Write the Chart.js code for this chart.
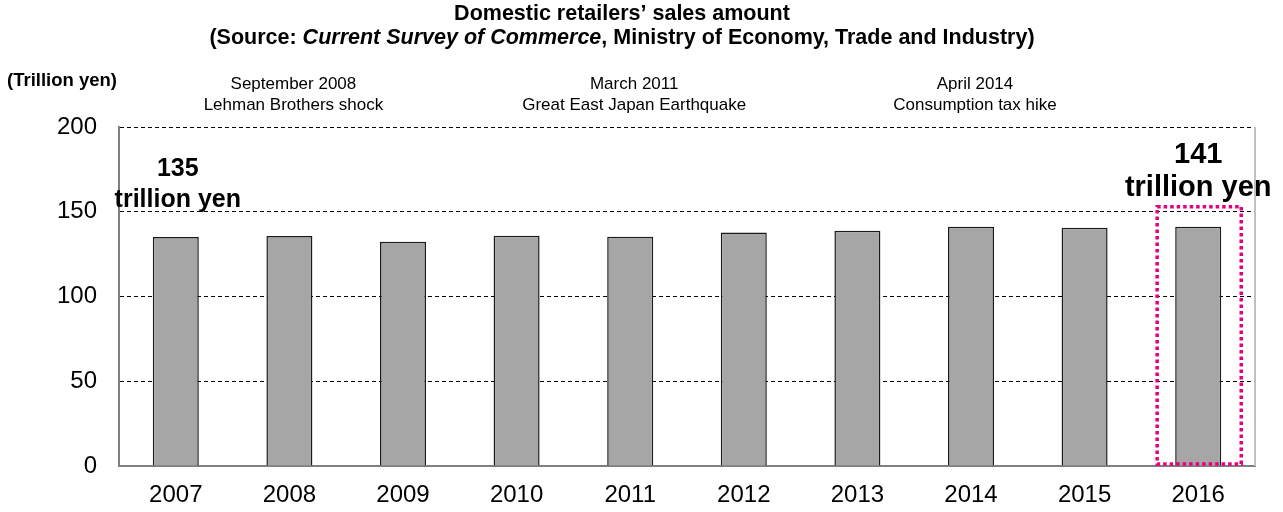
<!DOCTYPE html>
<html>
<head>
<meta charset="utf-8">
<script src="https://cdn.jsdelivr.net/npm/chart.js@4"></script>
<style>
  html, body { margin: 0; padding: 0; background: #fff; }
  #wrap { width: 1283px; height: 512px; }
</style>
</head>
<body>
<div id="wrap"><canvas id="salesChart" width="1283" height="512"></canvas></div>
<script>
const years = ["2007", "2008", "2009", "2010", "2011", "2012", "2013", "2014", "2015", "2016"];
const sales = [135.1, 135.7, 132.3, 135.8, 135.3, 137.7, 138.8, 141.2, 140.6, 141.2];
const yMax = 200;
const yStep = 50;

const eventYears = ["2008", "2011", "2014"];
const eventDates = ["September 2008", "March 2011", "April 2014"];
const eventNames = ["Lehman Brothers shock", "Great East Japan Earthquake", "Consumption tax hike"];

// dotted frame around the latest year, drawn up to this value
const highlightYear = "2016";
const highlightTop = 153;

const FONT = "'Liberation Sans', Arial, Helvetica, sans-serif";

function font(size, weight, style) {
  return (style || "normal") + " " + (weight || "normal") + " " + size + "px " + FONT;
}

const extras = {
  id: "extras",
  afterDraw(chart) {
    const ctx = chart.ctx;
    const x = chart.scales.x;
    const y = chart.scales.y;
    const area = chart.chartArea;
    const catW = x.getPixelForValue(1) - x.getPixelForValue(0);

    ctx.save();
    ctx.fillStyle = "#000";
    ctx.textBaseline = "middle";

    // title, two lines, the survey name in italics
    const titleX = 622;
    ctx.textAlign = "center";
    ctx.font = font(21.5, "bold");
    ctx.fillText("Domestic retailers\u2019 sales amount", titleX, 14);

    const parts = [
      ["(Source: ", font(21.5, "bold")],
      ["Current Survey of Commerce", font(21.5, "bold", "italic")],
      [", Ministry of Economy, Trade and Industry)", font(21.5, "bold")]
    ];
    let total = 0;
    parts.forEach(p => { ctx.font = p[1]; total += ctx.measureText(p[0]).width; });
    let px = titleX - total / 2;
    ctx.textAlign = "left";
    parts.forEach(p => {
      ctx.font = p[1];
      ctx.fillText(p[0], px, 38);
      px += ctx.measureText(p[0]).width;
    });

    // unit label
    ctx.font = font(18.5, "bold");
    ctx.fillText("(Trillion yen)", 7, 81);

    // events
    ctx.textAlign = "center";
    ctx.font = font(17);
    eventYears.forEach((yr, i) => {
      const cx = x.getPixelForValue(years.indexOf(yr)) + 4;
      ctx.fillText(eventDates[i], cx, 84);
      ctx.fillText(eventNames[i], cx, 105);
    });

    // value callouts for first and last year
    const first = 0;
    const last = years.length - 1;
    let cx = x.getPixelForValue(first) + 2;
    let top = y.getPixelForValue(sales[first]);
    ctx.font = font(25, "bold");
    ctx.fillText(String(Math.round(sales[first])), cx, top - 68);
    ctx.fillText("trillion yen", cx, top - 37);

    cx = x.getPixelForValue(last);
    top = y.getPixelForValue(sales[last]);
    ctx.font = font(29, "bold");
    ctx.fillText(String(Math.round(sales[last])), cx, top - 72);
    ctx.fillText("trillion yen", cx, top - 39);

    // right frame edge
    ctx.strokeStyle = "#c0c0c0";
    ctx.lineWidth = 2;
    ctx.beginPath();
    ctx.moveTo(area.right, area.top);
    ctx.lineTo(area.right, area.bottom);
    ctx.stroke();

    // dotted highlight box
    const hc = x.getPixelForValue(years.indexOf(highlightYear)) + 1;
    const hw = catW * 0.37;
    ctx.strokeStyle = "#e6007e";
    ctx.lineWidth = 3.5;
    ctx.setLineDash([3.5, 3]);
    ctx.strokeRect(hc - hw, y.getPixelForValue(highlightTop), hw * 2, y.getPixelForValue(0) - 2 - y.getPixelForValue(highlightTop));
    ctx.restore();
  }
};

const ctx = document.getElementById("salesChart").getContext("2d");
new Chart(ctx, {
  type: "bar",
  data: {
    labels: years,
    datasets: [
      {
        data: sales,
        backgroundColor: "#a6a6a6",
        borderColor: "#1a1a1a",
        borderWidth: 1.5,
        barPercentage: 0.405,
        categoryPercentage: 1
      }
    ]
  },
  options: {
    responsive: false,
    animation: false,
    layout: { padding: { top: 127, right: 28, left: 0, bottom: 0 } },
    plugins: {
      legend: { display: false },
      tooltip: { enabled: false }
    },
    scales: {
      x: {
        grid: { display: false, drawTicks: false },
        border: { display: true, color: "#808080", width: 2 },
        ticks: { color: "#000", font: { family: FONT, size: 24 }, padding: 15 },
        afterFit(scale) { scale.height = 46; }
      },
      y: {
        min: 0,
        max: yMax,
        ticks: { stepSize: yStep, color: "#000", font: { family: FONT, size: 24 }, padding: 22 },
        grid: {
          drawTicks: false,
          color: (c) => (c.tick && c.tick.value === 0 ? "rgba(0,0,0,0)" : "#000"),
          lineWidth: 1
        },
        border: { display: true, color: "#808080", width: 2, dash: [4, 3] },
        afterFit(scale) { scale.width = 119; }
      }
    }
  },
  plugins: [extras]
});
</script>
</body>
</html>
